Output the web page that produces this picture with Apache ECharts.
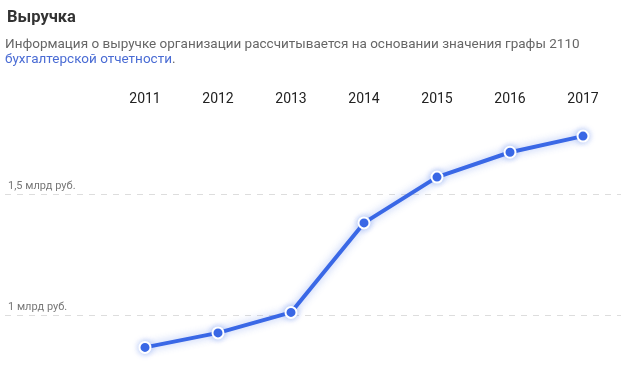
<!DOCTYPE html>
<html><head><meta charset="utf-8">
<script src="https://cdn.jsdelivr.net/npm/echarts@6/dist/echarts.min.js"></script>
<style>html,body{margin:0;padding:0;background:#fff}#c{width:621px;height:382px}</style>
</head><body><div id="c"></div>
<script>
const years = ['2011','2012','2013','2014','2015','2016','2017'];
const revenue = [0.867, 0.927, 1.012, 1.383, 1.573, 1.676, 1.743];
const yTickLabels = {1: '1 млрд руб.', 1.5: '1,5 млрд руб.'};
const titleText = 'Выручка';
const subLine1 = 'Информация о выручке организации рассчитывается на основании значения графы 2110';
const subLink = 'бухгалтерской отчетности';

const chart = echarts.init(document.getElementById('c'));
const FONT = 'Roboto, "Noto Sans", sans-serif';
const gTop = 74.1, gHeight = 361.8;
chart.setOption({
  animation: false,
  textStyle: {fontFamily: FONT},
  title: {text: titleText, left: 7, top: 9, padding: 0, textStyle: {fontSize: 16.5, fontWeight: 'bold', color: '#333', fontFamily: FONT}},
  graphic: [
    {type: 'text', left: 5, top: 38, style: {text: subLine1, fill: '#666', font: '13.5px ' + FONT}},
    {type: 'text', left: 5, top: 53, style: {
      text: '{a|' + subLink + '}{b|.}',
      rich: {a: {fill: '#4a6cd4', fontSize: 13.5, fontFamily: FONT}, b: {fill: '#666', fontSize: 13.5, fontFamily: FONT}}
    }}
  ],
  grid: [
    {left: 145, right: 38, top: gTop, height: gHeight, outerBoundsMode: 'none', containLabel: false},
    {left: 5, right: 0, top: gTop, height: gHeight, outerBoundsMode: 'none', containLabel: false},
    {left: 145, right: 38, top: 106, height: 1, outerBoundsMode: 'none', containLabel: false}
  ],
  xAxis: [
    {gridIndex: 0, type: 'category', data: years, boundaryGap: false, show: false},
    {gridIndex: 1, type: 'value', min: 0, max: 1, show: false},
    {gridIndex: 2, type: 'category', data: years, boundaryGap: false, position: 'top',
     axisLine: {show: false}, axisTick: {show: false}, splitLine: {show: false},
     axisLabel: {color: '#222', fontSize: 14, margin: 0, verticalAlign: 'bottom', fontFamily: FONT}}
  ],
  yAxis: [
    {gridIndex: 0, type: 'value', min: 0.5, max: 2.0, interval: 0.5, show: false},
    {gridIndex: 1, type: 'value', min: 0.5, max: 2.0, interval: 0.5,
     axisLine: {show: false}, axisTick: {show: false},
     splitLine: {show: true, showMinLine: false, showMaxLine: false, lineStyle: {color: '#ddd', type: [6, 6], width: 1}},
     axisLabel: {inside: true, margin: 3, verticalAlign: 'bottom', padding: [0, 0, 3, 0],
       color: '#777', fontSize: 11, fontFamily: FONT,
       formatter: v => yTickLabels[v] || ''}},
    {gridIndex: 2, type: 'value', show: false}
  ],
  series: [{
    type: 'line', xAxisIndex: 0, yAxisIndex: 0, data: revenue,
    symbol: 'circle', symbolSize: 11,
    lineStyle: {color: '#3a68e6', width: 4, shadowColor: 'rgba(58,104,230,0.45)', shadowBlur: 8},
    itemStyle: {color: '#3a68e6', borderColor: '#fff', borderWidth: 2, shadowColor: 'rgba(58,104,230,0.4)', shadowBlur: 6}
  }]
});
</script></body></html>
